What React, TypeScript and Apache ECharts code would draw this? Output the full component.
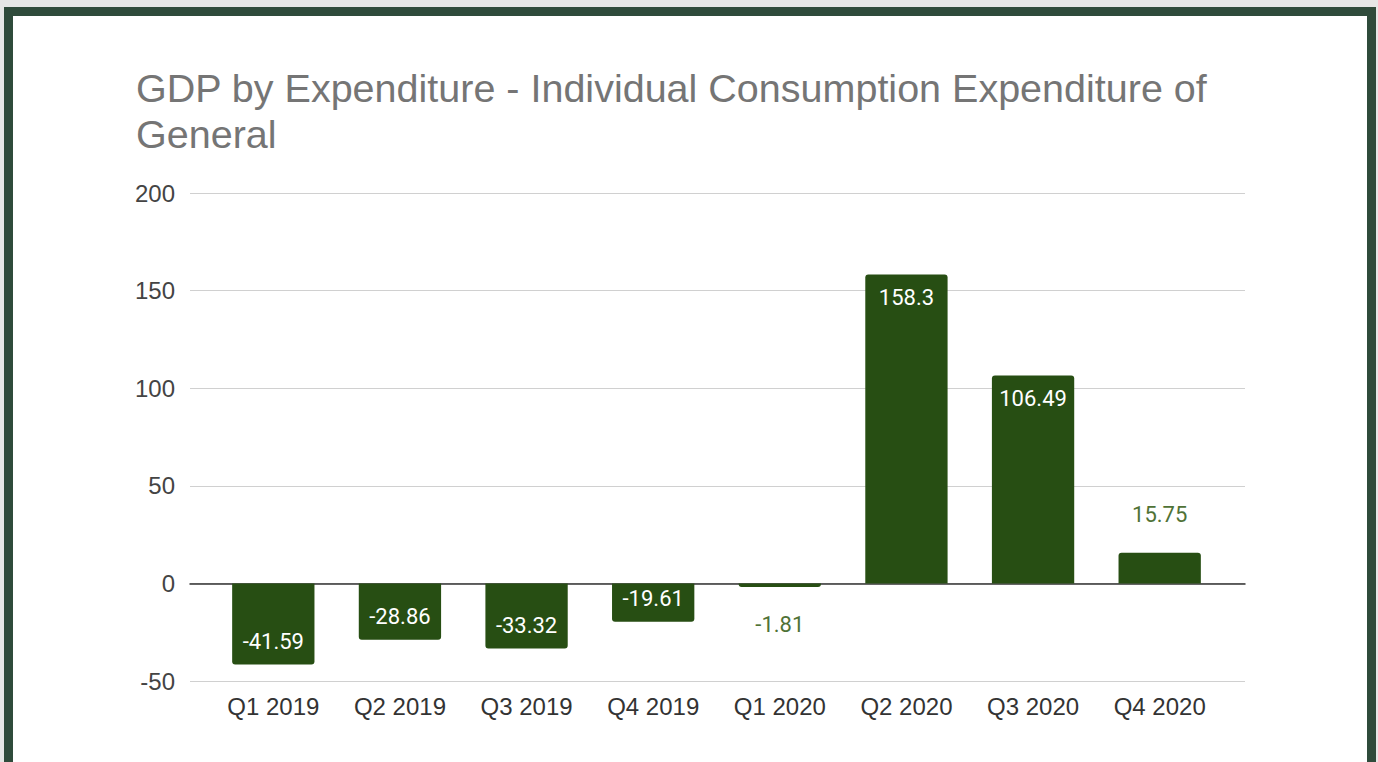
import React, { useEffect, useRef } from "react";
import * as echarts from "echarts";

const titleText = "GDP by Expenditure - Individual Consumption Expenditure of\nGeneral";
const categories = ["Q1 2019", "Q2 2019", "Q3 2019", "Q4 2019", "Q1 2020", "Q2 2020", "Q3 2020", "Q4 2020"];
const values = [-41.59, -28.86, -33.32, -19.61, -1.81, 158.3, 106.49, 15.75];
const yMin = -50;
const yMax = 200;
const yInterval = 50;

const BAR = "#274e13";
const OUT_LABEL = "#4f7236";
const SANS = "'Liberation Sans', Arial, sans-serif";

export default function App() {
  const ref = useRef<HTMLDivElement>(null);
  useEffect(() => {
    if (!ref.current) return;
    const chart = echarts.init(ref.current, undefined, { renderer: "svg" });
    const data = values.map((v) => {
      const big = Math.abs(v) >= 18;
      const pos = v >= 0 ? (big ? "insideTop" : "top") : big ? "insideBottom" : "bottom";
      return {
        value: v,
        itemStyle: { borderRadius: v >= 0 ? [3, 3, 0, 0] : [0, 0, 3, 3] },
        label: {
          position: pos,
          distance: big ? 12 : 27,
          color: big ? "#ffffff" : OUT_LABEL,
        },
      };
    });
    chart.setOption({
      animation: false,
      backgroundColor: "transparent",
      title: {
        text: titleText,
        left: 131,
        top: 60,
        textStyle: {
          fontFamily: SANS,
          fontSize: 39.5,
          lineHeight: 46,
          fontWeight: "normal",
          color: "#757575",
        },
      },
      grid: [
        { left: 190, right: 133, top: 193, bottom: 81 },
        { left: 210, right: 155, top: 193, bottom: 81 },
      ],
      xAxis: [
        {
          gridIndex: 0,
          type: "value",
          min: 0,
          max: 1,
          axisLabel: { show: false },
          axisTick: { show: false },
          splitLine: { show: false },
          axisLine: { show: true, onZero: true, lineStyle: { color: "#333333", width: 1.5 } },
        },
        {
          gridIndex: 1,
          type: "category",
          data: categories,
          axisLine: { show: false },
          axisTick: { show: false },
          axisLabel: {
            margin: 13,
            fontFamily: SANS,
            fontSize: 24,
            color: "#333333",
          },
        },
      ],
      yAxis: [
        {
          gridIndex: 0,
          type: "value",
          min: yMin,
          max: yMax,
          interval: yInterval,
          axisLine: { show: false },
          axisTick: { show: false },
          axisLabel: {
            margin: 15,
            fontFamily: SANS,
            fontSize: 24,
            color: "#444444",
          },
          splitLine: { lineStyle: { color: "#d0d0d0", width: 1 } },
        },
        {
          gridIndex: 1,
          type: "value",
          min: yMin,
          max: yMax,
          interval: yInterval,
          show: false,
          splitLine: { show: false },
        },
      ],
      series: [
        {
          type: "bar",
          xAxisIndex: 1,
          yAxisIndex: 1,
          data,
          barWidth: "65%",
          itemStyle: { color: BAR },
          label: {
            show: true,
            fontFamily: "Roboto, sans-serif",
            fontSize: 22,
            formatter: (p: any) => String(p.value),
          },
        },
      ],
    });
    return () => chart.dispose();
  }, []);
  return (
    <div style={{ position: "fixed", left: 0, top: 0, width: 1378, height: 762, background: "#e6e7e6", overflow: "hidden" }}>
      <div
        style={{
          position: "absolute",
          left: 4,
          top: 7,
          width: 1354,
          height: 800,
          border: "9px solid #2f4b3b",
          background: "#ffffff",
        }}
      />
      <div ref={ref} style={{ position: "absolute", left: 0, top: 0, width: 1378, height: 762 }} />
    </div>
  );
}
